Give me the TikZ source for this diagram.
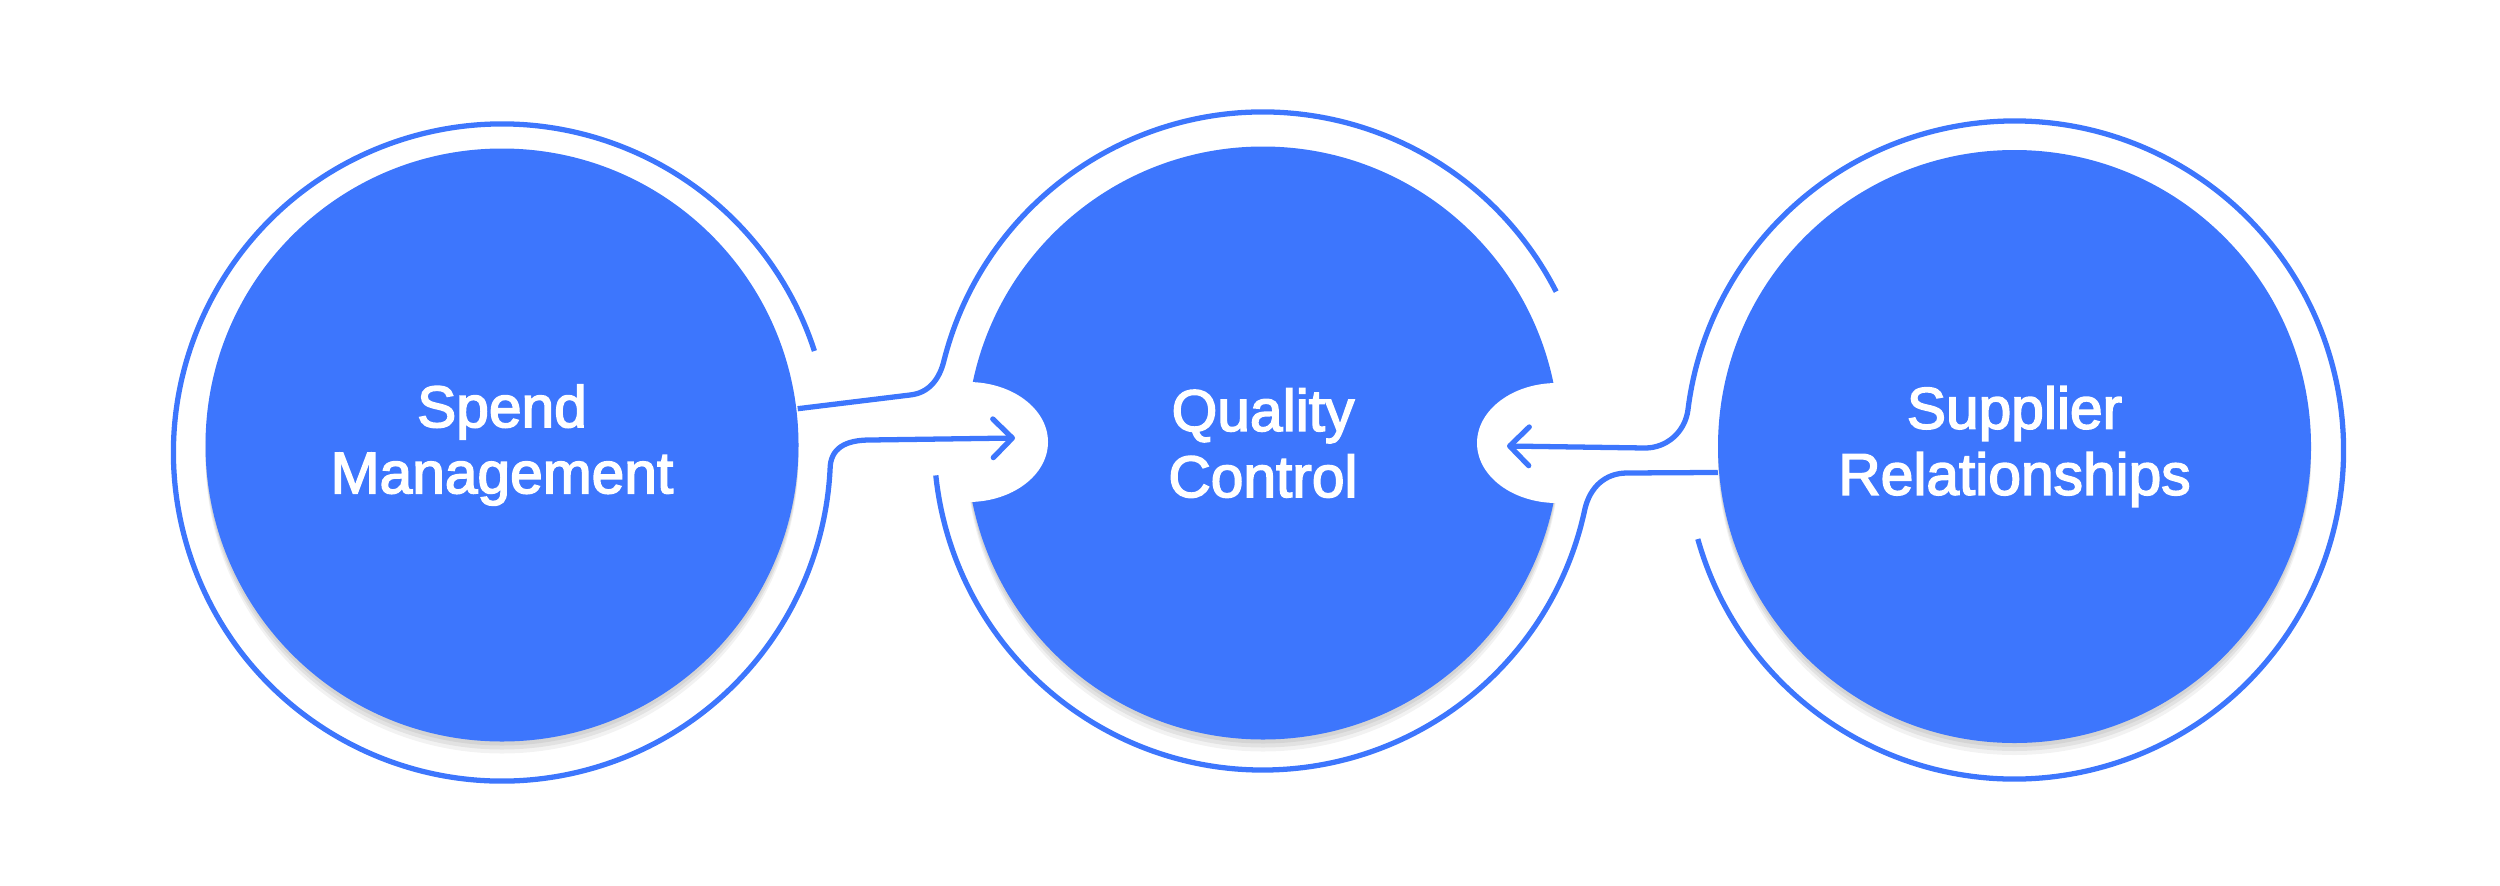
\documentclass[tikz,border=0pt]{standalone}
\usepackage{fontspec}
\newfontfamily\bubblefont{Liberation Sans}
\newcommand{\heavy}[1]{\special{pdf:literal direct 2 Tr 0.45 w}#1\special{pdf:literal direct 0 Tr}}
\usetikzlibrary{arrows.meta,shapes.geometric,shadows,calc}
\definecolor{bblue}{HTML}{3D76FD}

\begin{document}
\begin{tikzpicture}[thick, >={Straight Barb[length=5.5pt,width=11pt,round]},
    bubble/.style={circle, fill=bblue, minimum size=5.93cm, inner sep=0pt, text=white, align=center,
      font=\bubblefont\fontsize{16.7pt}{18.8pt}\selectfont,
      drop shadow={shadow xshift=0pt, shadow yshift=-0.04cm, opacity=0.14},
      drop shadow={shadow xshift=0pt, shadow yshift=-0.08cm, opacity=0.14},
      drop shadow={shadow xshift=0pt, shadow yshift=-0.12cm, opacity=0.10}},
    notch/.style={ellipse, fill=white, minimum width=1.6cm, minimum height=1.2cm, inner sep=0pt},
    ring/.style={draw=bblue, line width=1.5pt}]
  \useasboundingbox (0,0) rectangle (25,8.85);
  \node[bubble] (spend) at (5.02,4.40) {\heavy{Spend}\\\heavy{Management}};
  \node[bubble] (quality) at (12.63,4.42) {\heavy{Quality}\\\heavy{Control}};
  \node[bubble] (supplier) at (20.145,4.385) {\heavy{Supplier}\\\heavy{Relationships}};
  % notches cut into the middle circle
  \node[notch] (qleft) at (9.68,4.43) {};
  \node[notch] (qright) at (15.57,4.42) {};
  % ring centres and arrow tips
  \coordinate (r1) at (5.02,4.325);
  \coordinate (r2) at (12.63,4.44);
  \coordinate (r3) at (20.145,4.35);
  \coordinate (tipl) at (10.15,4.47);
  \coordinate (tipr) at (15.07,4.39);
  \draw[ring, ->] ($(r1)+(18:3.285)$) arc[start angle=18, end angle=357, radius=3.285]
        .. controls +(0,0.22) and +(-0.24,0) .. (8.70,4.45) -- (tipl);
  \draw[ring] (spend.7.5) -- (9.10,4.90)
        .. controls +(0.2,0.02) and +(-0.04,-0.16) .. ($(r2)+(166:3.29)$)
        arc[start angle=166, end angle=27, radius=3.29];
  \draw[ring] ($(r2)+(186:3.29)$) arc[start angle=186, end angle=348, radius=3.29]
        .. controls +(0.05,0.22) and +(-0.22,0) .. (16.27,4.12) -- (supplier.185);
  \draw[ring, ->] ($(r3)+(195.7:3.29)$) arc[start angle=195.7, end angle=533, radius=3.29]
        .. controls +(-0.03,-0.22) and +(0.22,0) .. (16.45,4.37) -- (tipr);
\end{tikzpicture}
\end{document}
